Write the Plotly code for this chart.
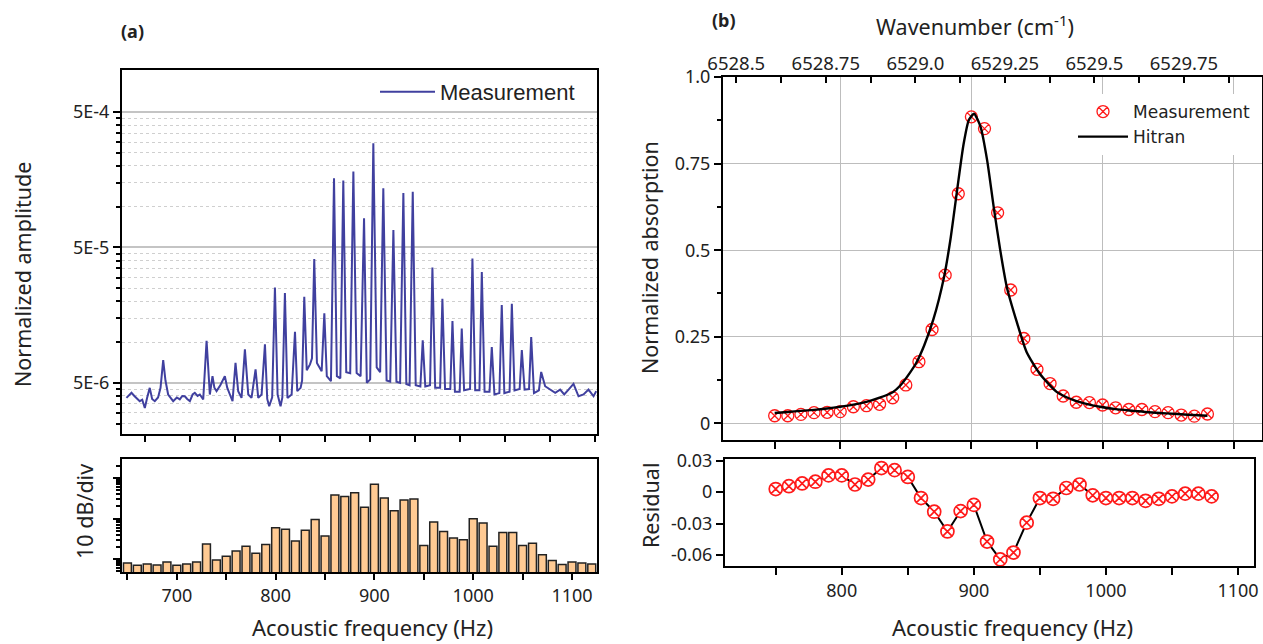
import plotly.graph_objects as go

W, H = 1263, 644

# ---------------- Panel (a): spectrum (log amplitude) ----------------
spec_freq = [649.0, 654.1, 657.0, 659.1, 662.5, 665.0, 667.6, 670.0, 672.6, 675.0, 677.7, 681.0,
             683.5, 686.2, 688.5, 691.2, 696.3, 700.0, 703.0, 705.5, 708.1, 710.5, 713.2, 716.0,
             718.2, 721.0, 723.3, 726.7, 728.5, 730.1, 731.5, 733.4, 736.1, 738.0, 740.2, 744.0,
             748.6, 751.0, 753.7, 756.4, 759.4, 762.1, 765.5, 768.9, 772.3, 775.6, 779.7, 782.4,
             785.8, 789.2, 791.5, 793.5, 796.5, 799.3, 802.0, 805.0, 806.8, 809.4, 812.0, 816.2,
             819.6, 821.9, 825.3, 826.8, 829.0, 831.5, 834.8, 836.8, 839.1, 841.8, 846.6, 849.3,
             851.8, 856.0, 859.1, 862.0, 865.5, 868.5, 871.5, 875.5, 878.7, 882.0, 886.0, 889.5,
             892.3, 895.7, 898.9, 902.3, 905.8, 909.0, 912.3, 916.0, 919.2, 922.3, 926.0, 929.3,
             932.3, 935.6, 938.8, 941.8, 946.5, 948.9, 951.5, 956.3, 958.7, 961.5, 966.5, 968.8,
             971.5, 976.8, 979.0, 981.5, 986.3, 988.4, 990.8, 996.8, 999.2, 1002.0, 1006.3, 1008.7,
             1011.5, 1016.5, 1018.8, 1021.5, 1026.5, 1028.9, 1031.5, 1036.8, 1039.1, 1041.8,
             1047.0, 1049.2, 1052.0, 1056.5, 1058.7, 1061.5, 1066.5, 1068.8, 1072.8, 1077.9,
             1083.0, 1088.0, 1092.1, 1096.5, 1101.5, 1106.6, 1111.7, 1116.7, 1121.8, 1124.5]
spec_amp_e6 = [3.87, 4.22, 4.0, 3.87, 3.66, 3.75, 3.26, 3.9, 4.59, 3.8, 3.66, 3.9,
               4.6, 7.37, 5.2, 4.1, 3.66, 3.9, 3.77, 4.0, 3.98, 3.8, 3.66, 4.1,
               4.22, 4.0, 4.10, 3.77, 6.0, 10.2, 7.0, 4.10, 5.60, 4.6, 4.34, 4.8,
               5.60, 4.6, 4.10, 3.66, 7.03, 4.34, 3.87, 8.83, 4.10, 3.87, 6.28, 3.87,
               4.10, 9.62, 3.8, 3.36, 3.9, 25.3, 4.10, 3.36, 3.9, 23.0, 3.87, 4.10,
               11.9, 4.34, 4.59, 5.2, 21.6, 6.2, 6.84, 7.6, 41.0, 7.0, 6.09, 16.3,
               5.6, 5.14, 162.0, 5.6, 5.4, 156.0, 6.0, 5.9, 182.0, 5.9, 5.6, 82.0,
               5.0, 5.3, 294.0, 6.5, 6.0, 137.0, 5.2, 5.1, 67.2, 5.1, 5.0, 126.0,
               4.9, 4.8, 129.0, 4.8, 4.7, 10.3, 4.7, 4.8, 35.6, 4.6, 4.6, 20.9,
               4.5, 4.5, 14.3, 4.3, 4.3, 12.6, 4.4, 4.5, 41.4, 4.4, 4.4, 33.0,
               4.3, 4.3, 9.19, 4.1, 4.2, 18.8, 4.2, 4.3, 19.2, 4.4,
               4.5, 8.73, 4.45, 4.5, 10.9, 4.2, 4.4, 6.02, 4.72, 4.46,
               4.22, 4.46, 4.10, 4.46, 4.92, 3.98, 4.10, 4.46, 3.98, 4.34]
spec_amp = [v * 1e-6 for v in spec_amp_e6]

amp_tickvals = [5e-6, 5e-5, 5e-4]
amp_ticktext = ["5E-6", "5E-5", "5E-4"]
amp_minor = [2.5e-6, 3e-6, 3.5e-6, 4e-6, 4.5e-6,
             1e-5, 1.5e-5, 2e-5, 2.5e-5, 3e-5, 3.5e-5, 4e-5, 4.5e-5,
             1e-4, 1.5e-4, 2e-4, 2.5e-4, 3e-4, 3.5e-4, 4e-4, 4.5e-4]

# ---------------- Panel (a): bar chart, 10 dB/div ----------------
bar_freq = list(range(650, 1121, 10))
bar_db = [-0.99, -1.56, -1.23, -1.48, -0.74, -1.56, -1.23, -0.74, 3.70, -0.25,
          0.66, 1.98, 3.13, 1.40, 3.62, 7.74, 7.33, 4.44, 7.08, 9.79,
          5.68, 15.8, 15.47, 16.38, 12.76, 18.44, 15.06, 11.93, 14.57, 14.81,
          3.37, 9.14, 6.83, 5.19, 4.77, 9.96, 8.89, 3.13, 6.58, 6.58,
          3.37, 3.87, 1.07, -0.33, -1.32, -0.74, -0.99, -1.23]
bar_lin = [10 ** (d / 10) for d in bar_db]
freq_ticks_a = [700, 800, 900, 1000, 1100]

# ---------------- Panel (b): absorption ----------------
meas_freq = list(range(750, 1081, 10))
meas_abs = [0.022, 0.022, 0.026, 0.031, 0.032, 0.034, 0.048, 0.051, 0.055, 0.074,
            0.111, 0.178, 0.271, 0.428, 0.663, 0.885, 0.851, 0.608, 0.385, 0.245,
            0.156, 0.115, 0.079, 0.061, 0.060, 0.053, 0.045, 0.040, 0.040, 0.034,
            0.031, 0.024, 0.021, 0.027]
residual = [0.003, 0.0057, 0.0083, 0.010, 0.016, 0.016, 0.0073, 0.012, 0.023, 0.021,
            0.0145, -0.0056, -0.0186, -0.0374, -0.018, -0.0121, -0.047, -0.064, -0.0575, -0.029,
            -0.0056, -0.0063, 0.004, 0.0073, -0.003, -0.0056, -0.0056, -0.0056, -0.0082, -0.0063,
            -0.004, -0.0014, -0.0014, -0.004]

hitran_freq = [750, 760, 770, 780, 790, 800, 810, 820, 830, 840, 846, 852, 858, 864, 871,
               879, 884, 889, 894, 898, 902, 907, 912, 917, 922, 927, 935, 942, 952, 965,
               978, 990, 998, 1010, 1024, 1035, 1049, 1065, 1080]
hitran_abs = [0.030, 0.033, 0.036, 0.039, 0.043, 0.048, 0.054, 0.062, 0.074, 0.090, 0.110,
              0.140, 0.175, 0.225, 0.300, 0.420, 0.530, 0.670, 0.805, 0.875, 0.894, 0.856,
              0.760, 0.625, 0.500, 0.394, 0.288, 0.207, 0.144, 0.091, 0.067, 0.054, 0.048,
              0.041, 0.036, 0.032, 0.029, 0.025, 0.022]

abs_tickvals = [0, 0.25, 0.5, 0.75, 1.0]
abs_ticktext = ["0", "0.25", "0.5", "0.75", "1.0"]
res_tickvals = [0.03, 0, -0.03, -0.06]
res_ticktext = ["0.03", "0", "-0.03", "-0.06"]
freq_ticks_b = [800, 900, 1000, 1100]
wn_tickvals = [6528.5, 6528.75, 6529.0, 6529.25, 6529.5, 6529.75]
wn_ticktext = ["6528.5", "6528.75", "6529.0", "6529.25", "6529.5", "6529.75"]
wn_minor = [6528.625, 6528.875, 6529.125, 6529.375, 6529.625, 6529.875]


def px_x(p):
    return p / W


def px_y(p):
    return 1 - p / H


TXT = "Noto Sans, Open Sans, DejaVu Sans, sans-serif"
TITLE_SIZE = 21.5
fig = go.Figure()

fig.add_trace(go.Scatter(x=spec_freq, y=spec_amp, mode="lines", name="Measurement",
                         line=dict(color="#40409f", width=2), xaxis="x", yaxis="y",
                         legend="legend"))
fig.add_trace(go.Bar(x=bar_freq, y=bar_lin, xaxis="x2", yaxis="y2", showlegend=False,
                     marker=dict(color="#ffca93", line=dict(color="#222222", width=1.5))))
fig.add_trace(go.Scatter(x=meas_freq, y=meas_abs, mode="markers", name="Measurement",
                         marker=dict(symbol="circle-x-open", size=12, color="#ff1a1a",
                                     line=dict(width=1.3)),
                         xaxis="x3", yaxis="y3", legend="legend2"))
fig.add_trace(go.Scatter(x=hitran_freq, y=hitran_abs, mode="lines", name="Hitran",
                         line=dict(color="black", width=2.4, shape="spline", smoothing=0.6),
                         xaxis="x3", yaxis="y3", legend="legend2"))
fig.add_trace(go.Scatter(x=meas_freq, y=residual, mode="lines+markers", showlegend=False,
                         line=dict(color="black", width=2),
                         marker=dict(symbol="circle-x", size=13, color="white",
                                     line=dict(color="#ff1a1a", width=1.7)),
                         xaxis="x4", yaxis="y4"))
fig.add_trace(go.Scatter(x=[], y=[], xaxis="x5", yaxis="y3", showlegend=False))

axis_common = dict(showline=True, linecolor="black", linewidth=2, mirror=True,
                   zeroline=False, ticks="outside", tickcolor="black", automargin=False,
                   tickfont=dict(family=TXT, size=18, color="#222"))

dom_a = [px_x(122), px_x(597)]
fig.update_layout(
    width=W, height=H, margin=dict(l=0, r=0, t=0, b=0, pad=0, autoexpand=False),
    paper_bgcolor="white", plot_bgcolor="white", bargap=0.2, showlegend=True,
    xaxis=dict(domain=dom_a, anchor="y", range=[644.5, 1125.3], showticklabels=False,
               tick0=667.6, dtick=45.6, ticklen=6, tickwidth=2, showgrid=False, **axis_common),
    yaxis=dict(domain=[px_y(434), px_y(70)], anchor="x", type="log",
               range=[-5.679, -2.99], tickvals=amp_tickvals, ticktext=amp_ticktext,
               ticklen=7, tickwidth=2, showgrid=True, gridcolor="#c4c4c4", gridwidth=1.5,
               minor=dict(tickvals=amp_minor, ticks="outside", ticklen=4, tickcolor="black",
                          showgrid=True, gridcolor="#cfcfcf", griddash="dot", gridwidth=1),
               **axis_common),
    xaxis2=dict(domain=dom_a, anchor="y2", range=[644.5, 1125.3], tickvals=freq_ticks_a,
                ticklen=6, tickwidth=2, showgrid=False,
                minor=dict(dtick=50, tick0=650, ticks="outside", ticklen=6, tickcolor="black"),
                **axis_common),
    yaxis2=dict(domain=[px_y(572), px_y(459)], anchor="x2", type="log", range=[-0.32, 2.47],
                tickvals=[1, 10, 100], showticklabels=False, ticklen=7, tickwidth=2,
                showgrid=False,
                minor=dict(tickvals=[0.5, 0.6, 0.7, 0.8, 0.9, 2, 3, 4, 5, 6, 7, 8, 9,
                                     20, 30, 40, 50, 60, 70, 80, 90, 200],
                           ticks="outside", ticklen=4, tickcolor="black"),
                **axis_common),
    xaxis3=dict(domain=[px_x(723), px_x(1262)], anchor="y3", range=[710.6, 1121.6],
                tickvals=freq_ticks_b, showticklabels=False, ticklen=7, tickwidth=2,
                showgrid=True, gridcolor="#bdbdbd", gridwidth=1,
                minor=dict(dtick=50, tick0=750, ticks="outside", ticklen=7, tickcolor="black"),
                **axis_common),
    yaxis3=dict(domain=[px_y(440), px_y(77)], anchor="x3", range=[-0.048, 1.0],
                tickvals=abs_tickvals, ticktext=abs_ticktext, ticklen=7, tickwidth=2,
                showgrid=True, gridcolor="#bdbdbd", gridwidth=1,
                minor=dict(dtick=0.125, tick0=0, ticks="outside", ticklen=4, tickcolor="black"),
                **axis_common),
    xaxis5=dict(overlaying="x3", side="top", anchor="y3", range=[6528.463, 6529.968],
                tickvals=wn_tickvals, ticktext=wn_ticktext, ticks="inside", ticklen=6,
                tickwidth=2, tickcolor="black", showgrid=False, zeroline=False, showline=False,
                automargin=False, ticklabelstandoff=2,
                tickfont=dict(family=TXT, size=18.5, color="#222"),
                minor=dict(tickvals=wn_minor, ticks="inside", ticklen=6, tickcolor="black")),
    xaxis4=dict(domain=[px_x(725), px_x(1254)], anchor="y4", range=[711.6, 1112.1],
                tickvals=freq_ticks_b, ticklen=7, tickwidth=2, showgrid=False,
                minor=dict(dtick=50, tick0=750, ticks="outside", ticklen=7, tickcolor="black"),
                **axis_common),
    yaxis4=dict(domain=[px_y(566), px_y(459)], anchor="x4", range=[-0.0703, 0.0316],
                tickvals=res_tickvals, ticktext=res_ticktext, ticklen=7, tickwidth=2,
                showgrid=False, **axis_common),
    legend=dict(x=px_x(580), y=px_y(71), xanchor="right", yanchor="top",
                bgcolor="rgba(0,0,0,0)", itemwidth=55,
                font=dict(family="Liberation Sans Narrow, Arial Narrow, Liberation Sans",
                          size=22, color="#222")),
    legend2=dict(x=px_x(1256), y=px_y(94), xanchor="right", yanchor="top",
                 bgcolor="white", itemwidth=50, tracegroupgap=2,
                 font=dict(family="DejaVu Sans", size=17, color="#222")),
)

ann = [
    dict(text="<b>(a)</b>", x=px_x(132), y=px_y(31), font=dict(size=18, family=TXT)),
    dict(text="<b>(b)</b>", x=px_x(724), y=px_y(20), font=dict(size=18, family=TXT)),
    dict(text="Normalized amplitude", x=px_x(22), y=px_y(275), textangle=-90,
         font=dict(size=TITLE_SIZE, family=TXT)),
    dict(text="10 dB/div", x=px_x(85), y=px_y(512), textangle=-90,
         font=dict(size=TITLE_SIZE, family=TXT)),
    dict(text="Acoustic frequency (Hz)", x=px_x(372), y=0.0, yanchor="bottom",
         font=dict(size=22, family=TXT)),
    dict(text="Wavenumber (cm<sup>-1</sup>)", x=px_x(975), y=px_y(25),
         font=dict(size=TITLE_SIZE, family=TXT)),
    dict(text="Normalized absorption", x=px_x(649), y=px_y(258), textangle=-90,
         font=dict(size=TITLE_SIZE, family=TXT)),
    dict(text="Residual", x=px_x(650), y=px_y(506), textangle=-90,
         font=dict(size=TITLE_SIZE, family=TXT)),
    dict(text="Acoustic frequency (Hz)", x=px_x(1012), y=0.0, yanchor="bottom",
         font=dict(size=22, family=TXT)),
]
for a in ann:
    a.setdefault("yanchor", "middle")
    a.update(xref="paper", yref="paper", showarrow=False, xanchor="center")
    a["font"]["color"] = "#222"
fig.update_layout(annotations=ann)

fig.write_html("out.html")
